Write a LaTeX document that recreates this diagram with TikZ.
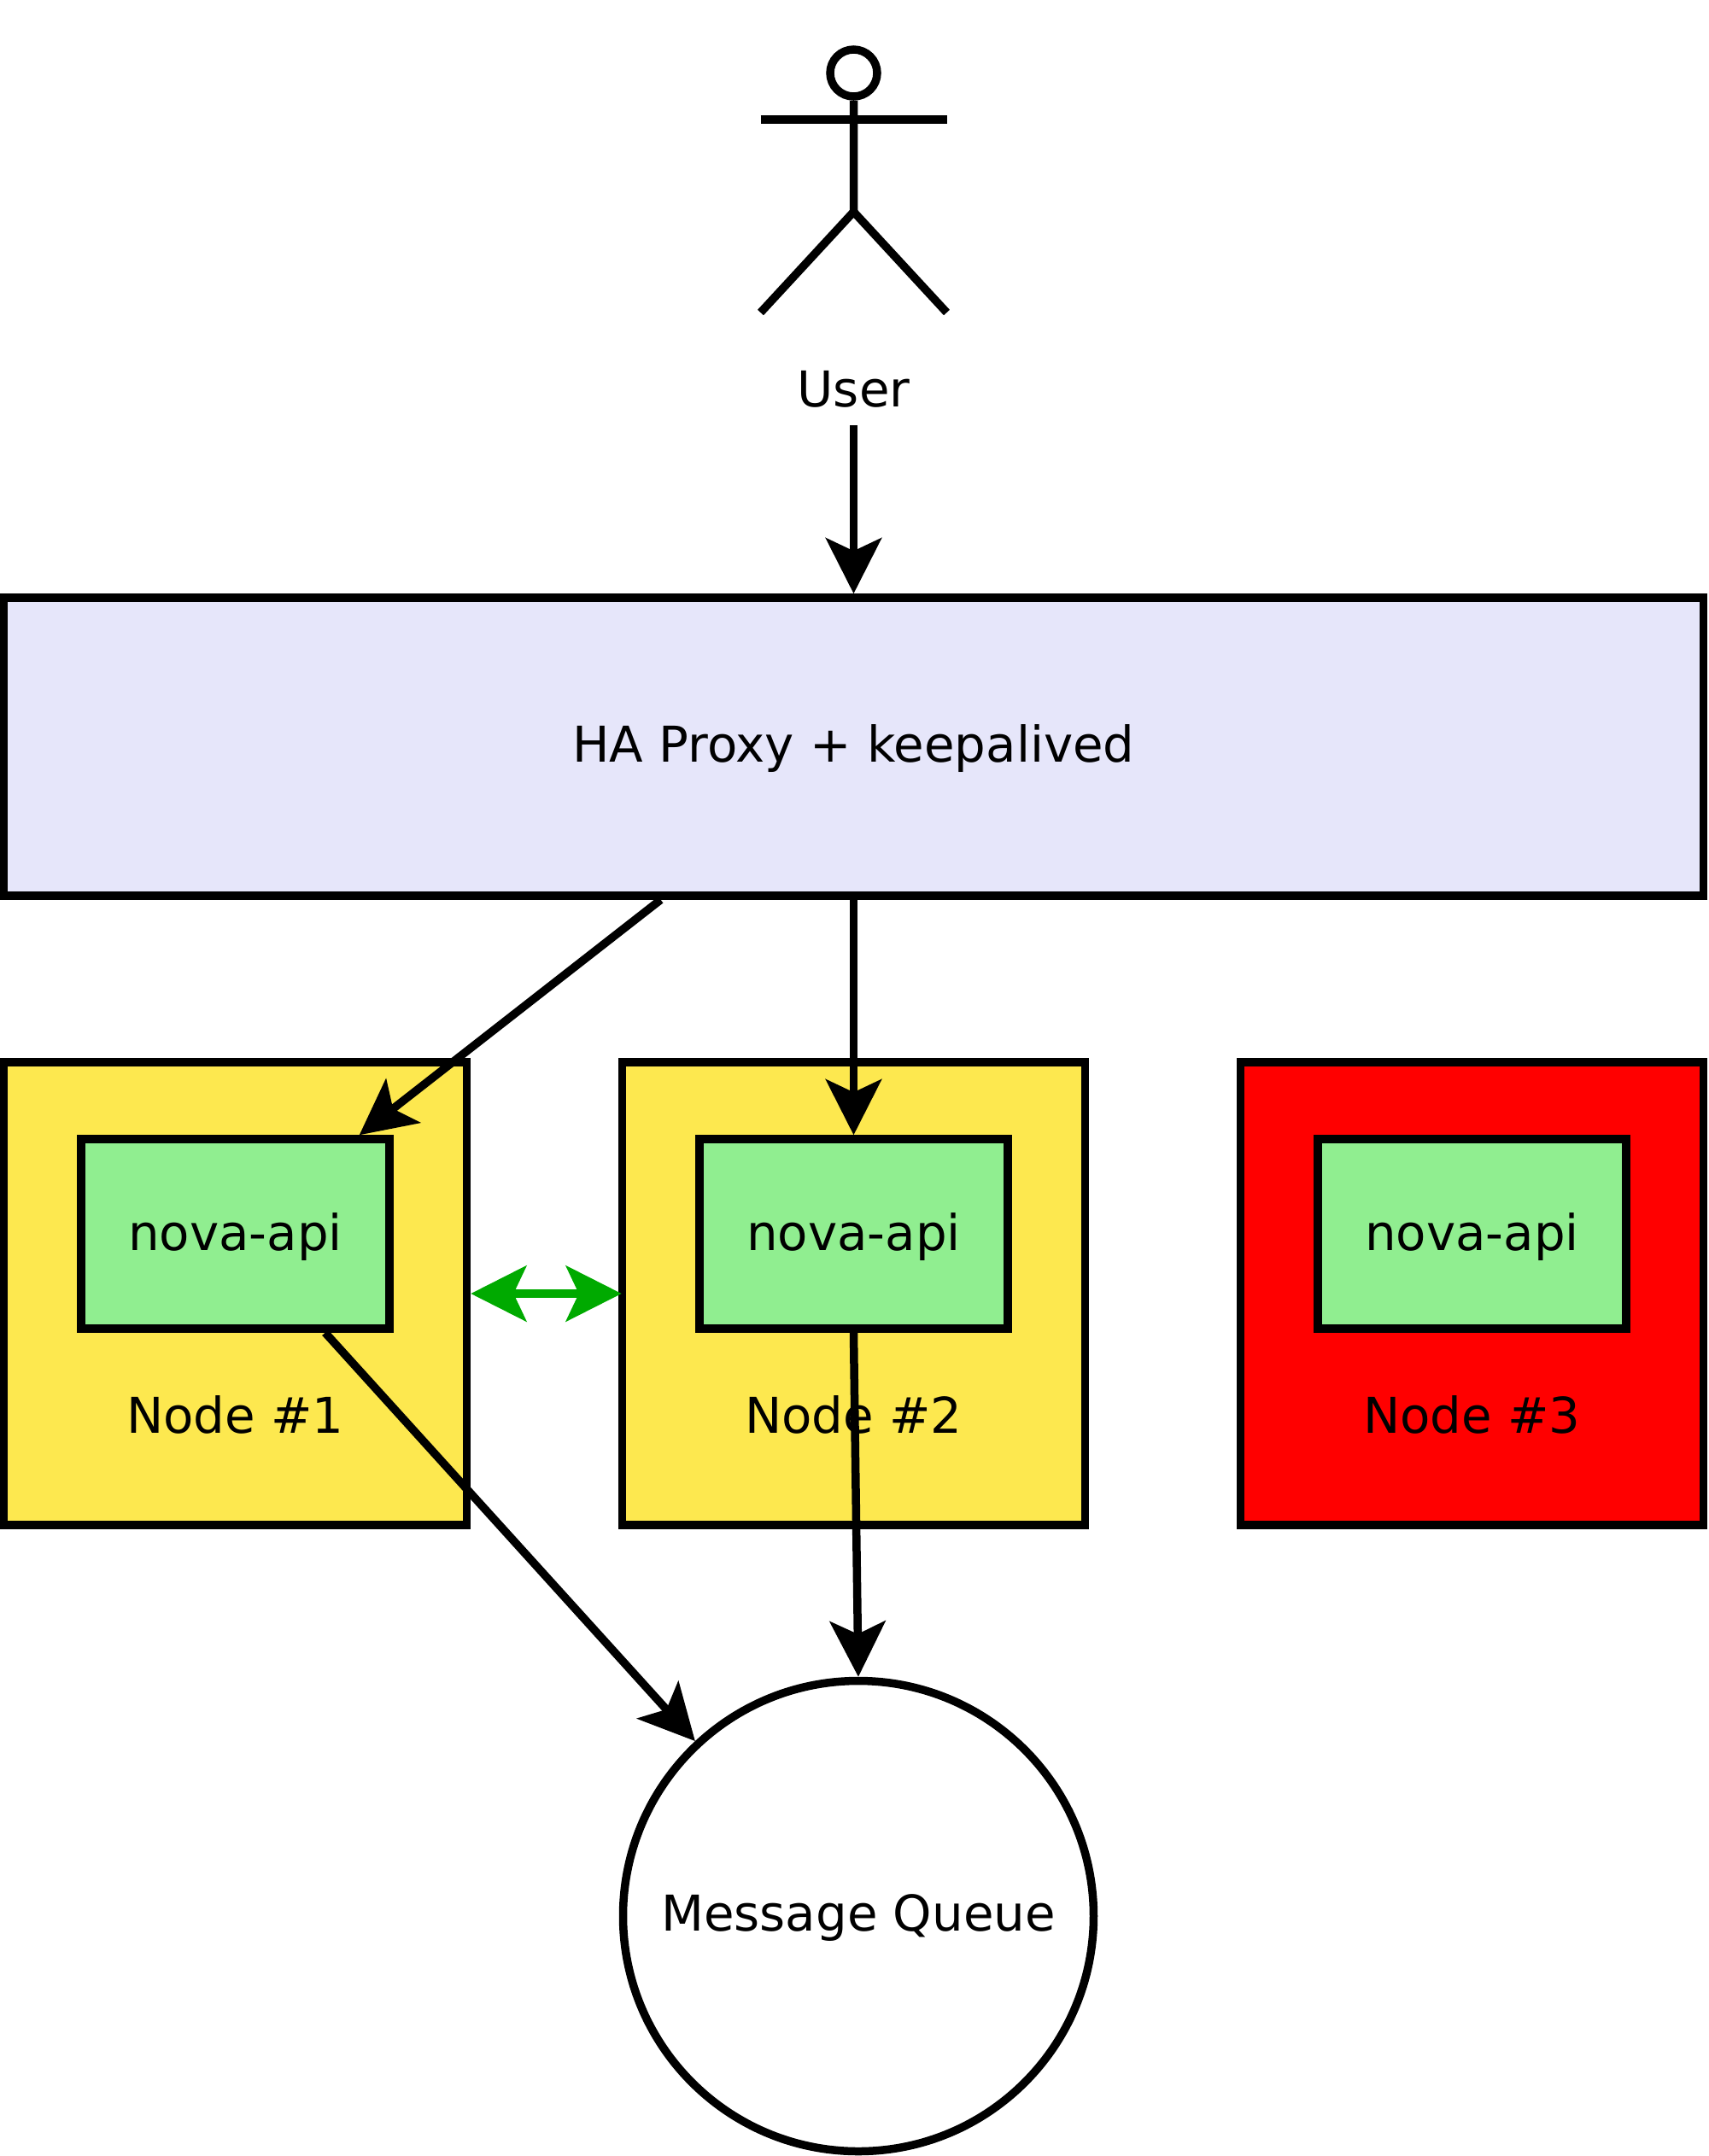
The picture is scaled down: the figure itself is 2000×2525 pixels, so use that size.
\documentclass[tikz,border=0pt]{standalone}
\usepackage{fontspec}
\setmainfont{DejaVu Sans}
\usetikzlibrary{calc,arrows.meta}

\definecolor{hostcolor}{HTML}{FDE84F}
\definecolor{proxycolor}{HTML}{E6E6FA}
\definecolor{novacolor}{HTML}{90EE90}
\definecolor{synccolor}{HTML}{00AA00}

\begin{document}
\begin{tikzpicture}[
    x=0.1mm,y=-0.1mm,
    line width=0.95mm,
    every node/.style={font=\fontsize{16.45}{19}\selectfont},
    proxybox/.style={draw,fill=proxycolor,minimum width=19.9cm,minimum height=3.49cm,text height=4.7mm},
    hostbox/.style={draw,minimum size=5.42cm},
    novabox/.style={draw,fill=novacolor,minimum width=3.61cm,minimum height=2.22cm,text height=5mm},
    queuecircle/.style={draw,fill=white,circle,minimum size=5.51cm,text height=4.6mm},
    headcircle/.style={draw,fill=white,circle,inner sep=0pt,minimum size=5.5mm},
    actorlabel/.style={inner sep=1.6mm},
    flow/.style={-{Stealth[length=6.5mm,width=6.5mm,inset=1.5mm]}},
    sync/.style={{Stealth[length=6.5mm,width=6.5mm,inset=1.5mm]}-{Stealth[length=6.5mm,width=6.5mm,inset=1.5mm]},draw=synccolor,shorten >=-0.4mm}
]

\useasboundingbox (0,0) rectangle (2000,2525);

% Draw the user figure.
\node[headcircle] (head) at (999.5,85.5) {};
\draw
    (head.south)
    -- (999.5,248) coordinate (hip)
    -- (890.5,366);
\draw
    (hip)
    -- (1108.5,366);
\draw
    (890.5,140) -- (1108.5,140);

% User label.
\node[actorlabel] (user) at (999.5,455.5) {User};

% Proxy across the whole width.
\node[proxybox] (proxy) at (999.5,874.5) {HA Proxy + keepalived};

% Loop for each host with its api box.
\foreach \x/\t/\c in {275.5/1/hostcolor,999.5/2/hostcolor,1723.5/3/red} {

    % Draw the host body.
    \node[hostbox,fill=\c] (host\t) at (\x,1515) {};

    % Draw the api box inside.
    \node[novabox] (nova\t) at (\x,1445) {nova-api};

    % Label each host.
    \node (hostlabel\t) at (\x,1657) {Node \#\t};
}

% Message queue.
\node[queuecircle] (queue) at (1005,2244) {Message Queue};

% User down to proxy.
\draw[flow] (user.south) -- (proxy.north);

% Proxy down to the first api, left of the middle.
\draw[flow]
    ($(proxy.south west)!0.387!(proxy.south east)$)
    -- ($(nova1.north west)!0.892!(nova1.north east)$);

% Proxy down to the second api.
\draw[flow] (proxy.south) -- (nova2.north);

% Sync between the two live hosts.
\draw[sync] (host1.east) -- (host2.west);

% Both api boxes go to the queue.
\draw[flow]
    ($(nova1.south west)!0.784!(nova1.south east)$)
    -- (queue.133);
\draw[flow] (nova2.south) -- (queue.90.5);

\end{tikzpicture}
\end{document}
